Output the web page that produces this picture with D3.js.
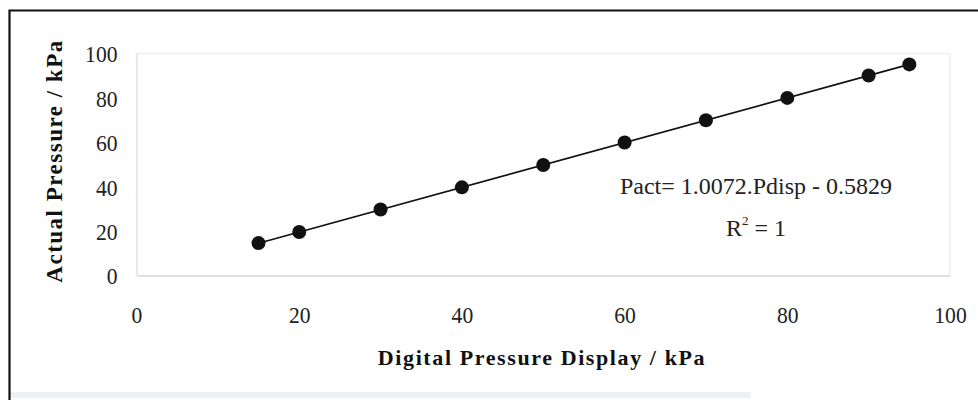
<!DOCTYPE html>
<html>
<head>
<meta charset="utf-8">
<script src="https://cdn.jsdelivr.net/npm/d3@7"></script>
<style>
  html, body { margin: 0; padding: 0; background: #fff; }
  svg { display: block; font-family: "Liberation Serif", "Times New Roman", serif; }
</style>
</head>
<body>
<svg id="chart" width="978" height="400"></svg>
<script>
// Calibration readings: digital display vs. actual pressure (kPa)
const displayKPa = [15, 20, 30, 40, 50, 60, 70, 80, 90, 95];
const actualKPa  = [14.6, 19.6, 29.7, 39.7, 49.8, 59.9, 69.9, 80.0, 90.1, 95.1];

// Linear fit reported on the chart
const fitSlope = 1.0072;
const fitIntercept = -0.5829;
const fitR2 = 1;

const xTicks = [0, 20, 40, 60, 80, 100];
const yTicks = [0, 20, 40, 60, 80, 100];

const xTitle = "Digital Pressure Display / kPa";
const yTitle = "Actual Pressure / kPa";

const svg = d3.select("#chart");

const x = d3.scaleLinear().domain([0, 100]).range([136.5, 950]);
const y = d3.scaleLinear().domain([0, 100]).range([275.5, 53.5]);

// Outer frame (left and top edges)
svg.append("path")
  .attr("d", "M9.5,400 V10.5 H978")
  .attr("fill", "none")
  .attr("stroke", "#111")
  .attr("stroke-width", 2.2);

// Faint bottom strip
svg.append("rect")
  .attr("x", 11).attr("y", 392).attr("width", 740).attr("height", 6)
  .attr("fill", "#edf1f4");

// Faint plot-area outline
svg.append("rect")
  .attr("x", x(0)).attr("y", y(100))
  .attr("width", x(100) - x(0)).attr("height", y(0) - y(100))
  .attr("fill", "none")
  .attr("stroke", "#eeeeee")
  .attr("stroke-width", 1.5);

const tickFont = 24;
const squeeze = 0.9;

// X axis
const xAxis = d3.axisBottom(x).tickValues(xTicks).tickSize(0).tickPadding(0);
const gx = svg.append("g").attr("transform", `translate(0,${y(0)})`).call(xAxis);
gx.select(".domain").attr("stroke", "#dadada").attr("stroke-width", 1.5);
gx.selectAll("text")
  .attr("dy", null)
  .attr("y", 48)
  .attr("transform", `scale(${squeeze},1)`)
  .attr("font-size", tickFont)
  .attr("font-family", "Liberation Serif, serif")
  .attr("fill", "#222");

// Y axis
const yAxis = d3.axisLeft(y).tickValues(yTicks).tickSize(0).tickPadding(0);
const gy = svg.append("g").attr("transform", `translate(${x(0)},0)`).call(yAxis);
gy.select(".domain").attr("stroke", "#e6e6e6").attr("stroke-width", 1.5);
gy.selectAll("text")
  .attr("x", -19 / squeeze)
  .attr("dy", "0.35em")
  .attr("transform", `scale(${squeeze},1)`)
  .attr("font-size", tickFont)
  .attr("font-family", "Liberation Serif, serif")
  .attr("fill", "#222");

// Trend line from the reported fit
const x0 = d3.min(displayKPa), x1 = d3.max(displayKPa);
svg.append("line")
  .attr("x1", x(x0)).attr("y1", y(fitSlope * x0 + fitIntercept))
  .attr("x2", x(x1)).attr("y2", y(fitSlope * x1 + fitIntercept))
  .attr("stroke", "#111")
  .attr("stroke-width", 1.6);

// Data points
svg.append("g").selectAll("circle")
  .data(displayKPa.map((d, i) => [d, actualKPa[i]]))
  .join("circle")
  .attr("cx", d => x(d[0]))
  .attr("cy", d => y(d[1]))
  .attr("r", 7)
  .attr("fill", "#111");

// Axis titles
svg.append("text")
  .attr("x", 542).attr("y", 365)
  .attr("text-anchor", "middle")
  .attr("font-size", 22)
  .attr("letter-spacing", 1.6)
  .attr("font-weight", "bold")
  .attr("fill", "#111")
  .text(xTitle);

svg.append("text")
  .attr("transform", "translate(62,161) rotate(-90)")
  .attr("text-anchor", "middle")
  .attr("font-size", 23)
  .attr("letter-spacing", 1.5)
  .attr("font-weight", "bold")
  .attr("fill", "#111")
  .text(yTitle);

// Fit annotation
const fmt4 = d3.format(".4f");
svg.append("text")
  .attr("x", 756).attr("y", 194)
  .attr("text-anchor", "middle")
  .attr("font-size", 24)
  .attr("fill", "#222")
  .text(`Pact= ${fmt4(fitSlope)}.Pdisp - ${fmt4(Math.abs(fitIntercept))}`);

const r2 = svg.append("text")
  .attr("x", 756).attr("y", 236)
  .attr("text-anchor", "middle")
  .attr("font-size", 24)
  .attr("fill", "#222");
r2.append("tspan").text("R");
r2.append("tspan").attr("dy", -11).attr("font-size", 13).text("2");
r2.append("tspan").attr("dy", 11).text(` = ${fitR2}`);
</script>
</body>
</html>
